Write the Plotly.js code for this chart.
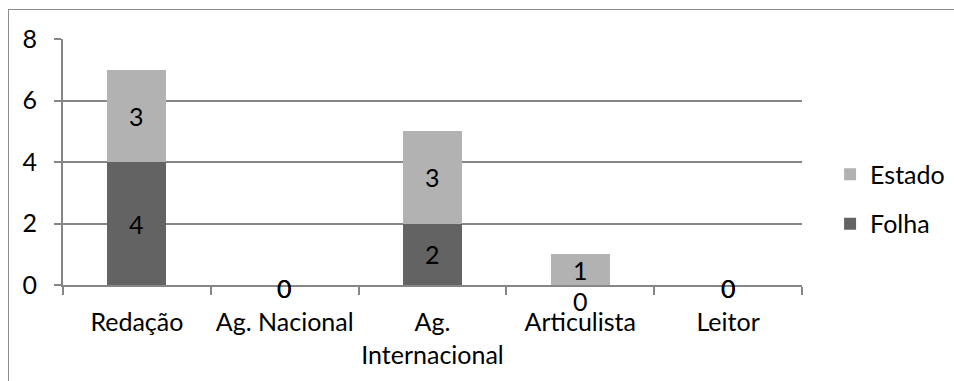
<!DOCTYPE html>
<html>
<head>
<meta charset="utf-8">
<script src="https://cdn.plot.ly/plotly-3.0.1.min.js"></script>
<style>
  html, body { margin: 0; padding: 0; background: #fff; }
  #wrap { position: relative; width: 954px; height: 381px; overflow: hidden; }
  #chart { width: 954px; height: 381px; }
  #frame { position: absolute; left: 8px; top: 9px; width: 1000px; height: 500px;
           border-left: 1px solid #8c8c8c; border-top: 1px solid #8c8c8c; pointer-events: none; }
</style>
</head>
<body>
<div id="wrap">
  <div id="chart"></div>
  <div id="frame"></div>
</div>
<script>
const categories = ["Redação", "Ag. Nacional", "Ag. Internacional", "Articulista", "Leitor"];
const tickLabels = ["Redação", "Ag. Nacional", "Ag.<br>Internacional", "Articulista", "Leitor"];
const folha = [4, 0, 2, 0, 0];
const estado = [3, 0, 3, 1, 0];
const yTicks = [0, 2, 4, 6, 8];

const FONT = "Lato, 'Open Sans', sans-serif";
const FS = 25;
const GRID = "#868686";

const traces = [
  { type: "bar", name: "Folha", x: categories, y: folha, marker: { color: "#636363" },
    width: 0.4, legendgroup: "f", legendrank: 2, hoverinfo: "skip" },
  { type: "bar", name: "Estado", x: categories, y: estado, marker: { color: "#b2b2b2" },
    width: 0.4, legendgroup: "e", legendrank: 1, hoverinfo: "skip" }
];

// data labels, positioned by data values
const annotations = [];
categories.forEach((c, i) => {
  const f = folha[i], e = estado[i];
  annotations.push({ x: c, y: f / 2, text: String(f), showarrow: false,
    font: { family: FONT, size: FS, color: "#000" },
    yshift: f === 0 ? (e > 0 ? -16 : -3) : 0 });
  annotations.push({ x: c, y: f + e / 2, text: String(e), showarrow: false,
    font: { family: FONT, size: FS, color: "#000" },
    yshift: e === 0 ? -3 : 0 });
});

const layout = {
  width: 954, height: 381,
  margin: { l: 63, r: 152, t: 39, b: 96, pad: 0, autoexpand: false },
  paper_bgcolor: "#fff", plot_bgcolor: "#fff",
  font: { family: FONT, size: FS, color: "#000" },
  barmode: "stack",
  showlegend: true,
  legend: {
    x: 1.038, y: 0.35, xanchor: "left", yanchor: "middle",
    traceorder: "grouped", tracegroupgap: 14,
    font: { family: FONT, size: FS, color: "#000" },
    itemwidth: 30, bgcolor: "rgba(0,0,0,0)"
  },
  xaxis: {
    type: "category",
    tickvals: categories, ticktext: tickLabels, tickangle: 0,
    showline: true, linecolor: GRID, linewidth: 2,
    ticks: "outside", tickson: "boundaries", ticklen: 8, tickcolor: GRID, tickwidth: 2,
    showgrid: false, zeroline: false,
    ticklabelstandoff: 14,
    tickfont: { family: FONT, size: FS, color: "#000" },
    automargin: false,
    fixedrange: true
  },
  yaxis: {
    range: [0, 8], tickvals: yTicks,
    showline: true, linecolor: GRID, linewidth: 2,
    ticks: "outside", ticklen: 7, tickcolor: GRID, tickwidth: 2,
    showgrid: true, gridcolor: GRID, gridwidth: 2,
    zeroline: false,
    ticklabelstandoff: 12,
    tickfont: { family: FONT, size: FS, color: "#000" },
    automargin: false,
    fixedrange: true
  },
  annotations: annotations
};

Plotly.newPlot("chart", traces, layout, { displayModeBar: false, staticPlot: true });
</script>
</body>
</html>
